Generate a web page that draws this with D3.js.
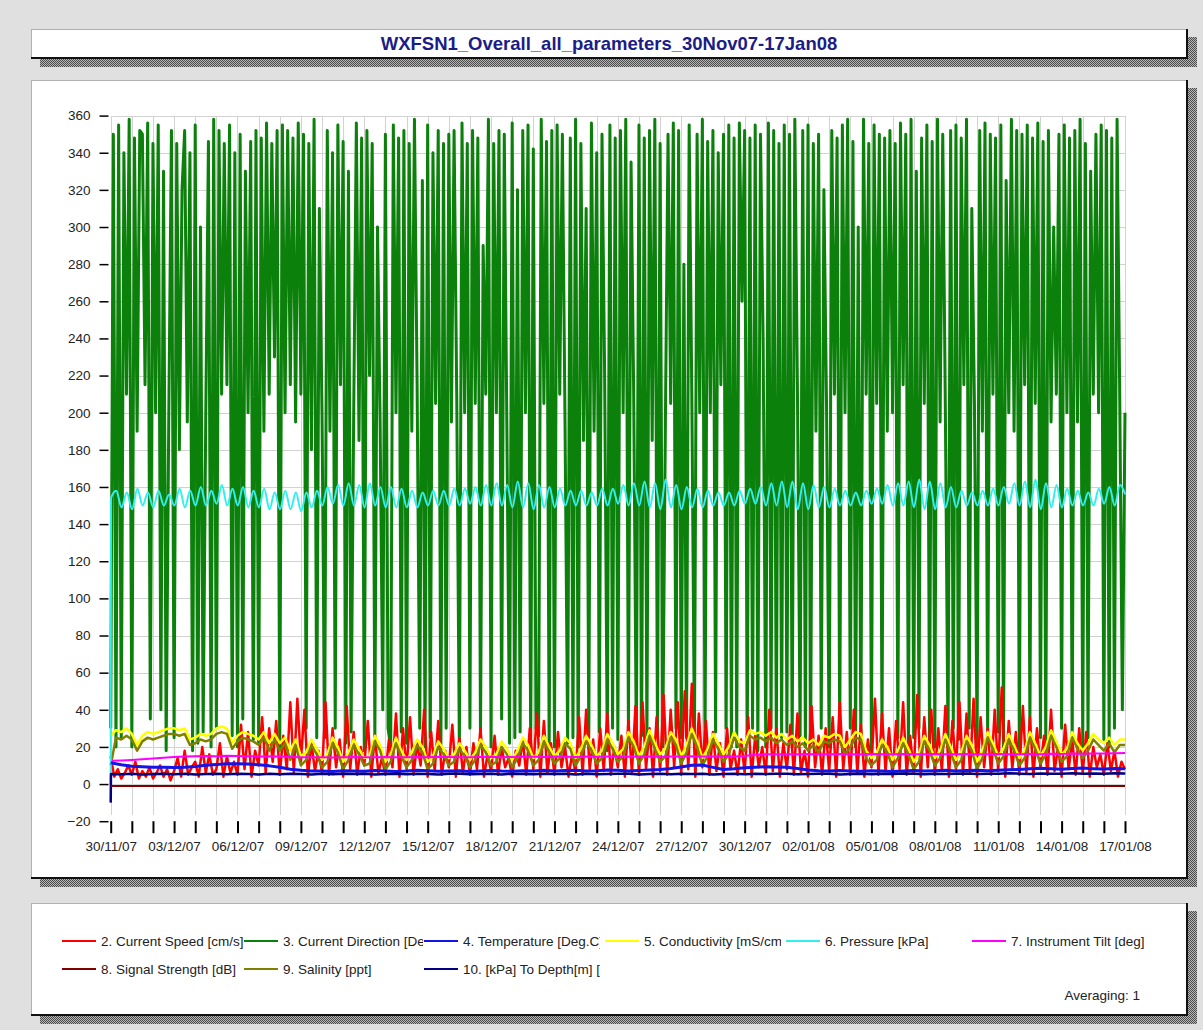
<!DOCTYPE html>
<html lang="en">
<head>
<meta charset="UTF-8">
<title>WXFSN1 overall parameters</title>
<script src="https://d3js.org/d3.v7.min.js"></script>
<style>
    body { margin: 0; background: #e0e0e0; }
    svg { display: block; font-family: "Liberation Sans", Arial, sans-serif; }
    .grid line { stroke: #d2d2d2; stroke-width: 1; shape-rendering: crispEdges; }
    .axis text { font-size: 13.5px; fill: #222; }
    .axis line { stroke: #000; }
    .legend text { font-size: 13.5px; fill: #222; }
</style>
</head>
<body>
<div id="chart"></div>
<script>
// ---- data ----
const startDate = new Date(2007, 10, 30);
const endDate = new Date(2008, 0, 17);

// 2. current speed, every 4 hours
const currentSpeed = [
    15, 4, 8, 3, 6, 10,
    5, 12, 3, 7, 4, 9,
    3, 6, 10, 4, 8, 2,
    7, 14, 4, 18, 5, 9,
    12, 4, 20, 6, 16, 5,
    8, 22, 4, 15, 6, 12,
    5, 32, 8, 28, 4, 18,
    10, 36, 6, 30, 12, 34,
    5, 26, 8, 44, 6, 46,
    12, 40, 4, 22, 7, 18,
    6, 44, 5, 30, 9, 24,
    4, 42, 8, 28, 5, 20,
    10, 34, 4, 26, 6, 14,
    5, 24, 9, 38, 4, 30,
    8, 36, 5, 22, 10, 40,
    4, 28, 7, 34, 5, 18,
    9, 32, 4, 25, 6, 20,
    5, 22, 8, 30, 4, 16,
    7, 26, 5, 20, 9, 14,
    4, 18, 10, 24, 5, 30,
    8, 38, 4, 34, 6, 22,
    5, 28, 9, 20, 4, 16,
    6, 36, 5, 40, 8, 24,
    4, 30, 7, 38, 5, 20,
    9, 26, 4, 34, 6, 42,
    5, 44, 8, 30, 4, 36,
    7, 48, 5, 40, 9, 44,
    5, 50, 8, 54, 4, 38,
    9, 34, 5, 28, 7, 22,
    4, 30, 8, 18, 5, 24,
    6, 36, 4, 26, 9, 20,
    5, 40, 7, 30, 4, 22,
    8, 32, 5, 38, 6, 18,
    4, 42, 9, 26, 5, 30,
    7, 36, 4, 44, 8, 28,
    5, 40, 6, 32, 4, 24,
    9, 46, 5, 38, 7, 30,
    4, 34, 8, 44, 5, 26,
    6, 48, 4, 36, 9, 40,
    5, 30, 7, 42, 4, 34,
    8, 44, 5, 38, 6, 46,
    4, 36, 9, 30, 5, 40,
    7, 52, 4, 34, 8, 28,
    5, 42, 6, 36, 4, 30,
    9, 26, 5, 40, 7, 20,
    4, 32, 8, 24, 5, 30,
    6, 28, 4, 20, 9, 16,
    5, 22, 7, 18, 4, 12,
    8
];

// 3. current direction, every 3 hours
const currentDirection = [
    30, 350, 20, 355, 25, 340, 210, 358,
    20, 348, 190, 352, 350, 215, 356, 35,
    345, 200, 355, 40, 330, 18, 200, 352,
    25, 345, 180, 320, 352, 195, 340, 18,
    355, 22, 300, 28, 200, 346, 20, 358,
    30, 352, 210, 345, 215, 355, 26, 340,
    20, 350, 35, 330, 200, 346, 24, 352,
    22, 348, 190, 356, 210, 345, 230, 352,
    20, 355, 200, 352, 215, 348, 195, 356,
    210, 350, 30, 345, 180, 358, 25, 310,
    200, 25, 352, 190, 340, 30, 355, 215,
    346, 22, 330, 28, 200, 356, 185, 348,
    18, 352, 220, 345, 25, 300, 195, 40,
    350, 30, 20, 355, 200, 348, 28, 352,
    22, 345, 190, 358, 215, 30, 325, 20,
    355, 25, 340, 205, 352, 18, 345, 30,
    350, 195, 352, 210, 20, 356, 200, 345,
    30, 352, 205, 348, 24, 290, 210, 358,
    20, 345, 200, 352, 35, 350, 190, 22,
    356, 25, 320, 28, 352, 200, 355, 20,
    342, 30, 26, 358, 205, 346, 18, 352,
    20, 355, 210, 350, 195, 22, 348, 25,
    358, 20, 345, 185, 310, 25, 356, 190,
    340, 28, 350, 220, 18, 355, 30, 348,
    24, 352, 200, 358, 30, 335, 210, 20,
    355, 26, 348, 22, 352, 185, 358, 26,
    345, 20, 195, 350, 205, 356, 30, 352,
    25, 280, 25, 355, 210, 22, 350, 200,
    358, 18, 346, 200, 352, 28, 340, 215,
    350, 30, 355, 20, 348, 20, 356, 260,
    352, 25, 348, 30, 355, 18, 350, 240,
    20, 356, 30, 352, 22, 345, 25, 355,
    28, 350, 20, 358, 210, 26, 352, 20,
    355, 22, 345, 190, 350, 30, 320, 205,
    20, 352, 210, 348, 25, 355, 200, 358,
    30, 346, 20, 300, 22, 358, 210, 345,
    18, 355, 205, 350, 28, 348, 190, 352,
    200, 345, 25, 356, 215, 350, 20, 358,
    25, 330, 30, 348, 205, 355, 22, 346,
    20, 358, 195, 350, 200, 20, 352, 30,
    355, 24, 348, 215, 358, 30, 310, 205,
    20, 352, 190, 356, 25, 350, 210, 348,
    28, 355, 20, 325, 200, 358, 190, 352,
    18, 350, 215, 355, 30, 348, 205, 356,
    25, 346, 20, 352, 195, 300, 210, 350,
    30, 355, 200, 348, 22, 352, 195, 358,
    20, 345, 25, 330, 210, 350, 200, 355,
    24, 352, 20, 348, 30, 358, 210, 40,
    200
];

// 4. temperature, every 12 hours
const temperature = [
    11.5, 10.4, 9.6, 9.3, 9.1, 9.0, 8.9, 9.1, 9.5, 10.1,
    10.6, 10.9, 11.0, 10.8, 10.4, 9.8, 9.0, 8.0, 7.4, 7.1,
    7.0, 6.8, 7.2, 7.0, 6.9, 7.3, 7.1, 6.8, 7.0, 7.4,
    7.2, 6.9, 7.0, 7.2, 6.8, 7.1, 7.3, 7.0, 6.9, 7.2,
    7.1, 7.4, 7.0, 7.3, 7.5, 7.1, 7.2, 7.6, 7.4, 7.0,
    7.3, 7.6, 7.8, 8.4, 9.2, 10.1, 10.3, 9.0, 7.8, 8.2,
    8.8, 9.1, 9.3, 9.2, 9.0, 8.4, 7.6, 7.2, 7.0, 7.3,
    7.1, 6.9, 7.2, 7.0, 6.8, 7.1, 7.3, 7.0, 7.2, 7.4,
    7.0, 7.3, 7.5, 7.2, 7.4, 7.7, 7.9, 8.3, 8.5, 8.2,
    8.0, 8.4, 8.6, 8.3, 8.1, 8.4, 8.2
];

// 5. conductivity, every 6 hours
const conductivity = [
    26, 29, 28, 30,  27, 21, 26, 28,  27, 28, 29, 30,  30, 29, 30, 24,
    25, 27, 26, 27,  30, 31, 30, 22,  26, 28, 27, 26,  24, 28, 22, 27,
    22, 25, 18, 24,  15, 17, 24, 19,  13, 16, 25, 20,  12, 17, 24, 19,
    14, 15, 26, 21,  12, 16, 25, 18,  13, 17, 24, 20,  12, 15, 23, 19,
    14, 16, 22, 18,  13, 17, 24, 20,  14, 16, 23, 19,  13, 18, 25, 21,
    14, 17, 26, 20,  15, 18, 25, 22,  14, 19, 26, 21,  15, 18, 27, 22,
    16, 19, 28, 23,  15, 20, 29, 22,  16, 19, 28, 24,  15, 21, 30, 23,
    14, 19, 27, 22,  16, 20, 28, 23,  22, 29, 27, 28,  26, 28, 25, 27,
    24, 26, 23, 25,  22, 24, 21, 26,  25, 27, 26, 20,  24, 28, 27, 18,
    14, 17, 24, 20,  13, 18, 25, 19,  12, 16, 26, 21,  14, 18, 27, 20,
    13, 17, 26, 21,  12, 18, 28, 22,  15, 19, 27, 21,  14, 18, 28, 22,
    15, 20, 29, 23,  16, 19, 28, 22,  18, 22, 27, 24,  22, 25, 21, 24,
    24
];

// 6. pressure: reading at deployment, then every 6 hours
const pressureDeploy = 0;
const pressure = [
    154, 158, 149, 157,  148, 159, 150, 157,  149, 158, 150, 156,  150, 159, 149, 158,
    150, 160, 150, 158,  151, 161, 150, 159,  150, 160, 149, 158,  149, 159, 148, 157,
    148, 158, 148, 157,  147, 157, 149, 158,  150, 160, 151, 161,  150, 162, 150, 161,
    149, 162, 150, 160,  149, 160, 149, 159,  149, 158, 149, 157,  150, 158, 150, 158,
    150, 159, 150, 159,  151, 160, 150, 161,  150, 162, 150, 161,  149, 163, 149, 162,
    148, 161, 149, 160,  149, 159, 150, 158,  150, 158, 150, 157,  150, 159, 150, 159,
    151, 161, 150, 162,  150, 163, 149, 162,  148, 164, 149, 161,  148, 160, 149, 159,
    149, 158, 150, 157,  150, 157, 150, 158,  151, 159, 151, 160,  150, 162, 150, 163,
    149, 163, 148, 162,  148, 161, 149, 160,  149, 159, 150, 158,  150, 157, 150, 158,
    151, 159, 151, 161,  150, 162, 150, 163,  149, 164, 148, 163,  148, 162, 149, 160,
    149, 158, 150, 157,  150, 158, 150, 159,  150, 160, 151, 162,  150, 163, 149, 164,
    148, 162, 149, 161,  149, 159, 150, 158,  150, 157, 150, 159,  151, 160, 150, 161,
    156
];

// 7. instrument tilt, every 12 hours
const instrumentTilt = [
    12.5, 12.7, 13.0, 13.4, 13.8, 14.2, 14.6, 14.9, 15.0, 15.1,
    15.0, 15.2, 15.1, 15.0, 14.9, 15.0, 14.8, 14.6, 14.5, 14.4,
    14.5, 14.3, 14.4, 14.6, 14.5, 14.4, 14.6, 14.5, 14.4, 14.6,
    14.5, 14.7, 14.6, 14.5, 14.4, 14.6, 14.7, 14.5, 14.6, 14.8,
    14.7, 14.6, 14.8, 14.7, 14.6, 14.8, 14.7, 14.9, 14.8, 14.7,
    14.9, 14.8, 14.7, 14.9, 14.8, 15.0, 14.9, 14.8, 15.0, 14.9,
    15.1, 15.8, 16.0, 16.1, 16.0, 16.1, 16.2, 16.0, 16.1, 16.2,
    16.0, 16.1, 16.2, 16.1, 16.0, 16.2, 16.1, 16.0, 16.2, 16.1,
    16.0, 16.2, 16.1, 16.0, 16.2, 16.1, 16.0, 16.2, 16.1, 16.3,
    16.2, 16.4, 16.3, 16.5, 16.4, 16.6, 16.7
];

// 8. signal strength, daily
const signalStrength = [
    -1.0, -1.1, -1.0, -1.0, -1.1, -1.0, -1.0, -1.1, -1.0, -1.0,
    -1.1, -1.0, -1.0, -1.0, -1.1, -1.0, -1.0, -1.1, -1.0, -1.0,
    -1.0, -1.1, -1.0, -1.0, -1.1, -1.0, -1.0, -1.0, -1.1, -1.0,
    -1.0, -1.1, -1.0, -1.0, -1.0, -1.1, -1.0, -1.0, -1.1, -1.0,
    -1.0, -1.0, -1.1, -1.0, -1.0, -1.1, -1.0, -1.0, -1.0
];

// 9. salinity, every 6 hours
const salinity = [
    10, 25, 24, 26,  24, 18, 23, 25,  24, 25, 26, 27,  27, 26, 27, 21,
    22, 24, 23, 24,  27, 28, 27, 19,  23, 25, 24, 23,  21, 25, 18, 24,
    18, 22, 13, 21,  10, 13, 21, 16,  9, 12, 22, 17,   8, 13, 21, 16,
    10, 11, 23, 18,  8, 12, 22, 15,   9, 13, 21, 17,   8, 11, 20, 16,
    10, 12, 19, 15,  9, 13, 21, 17,   10, 12, 20, 16,  9, 14, 22, 18,
    10, 13, 23, 17,  11, 14, 22, 19,  10, 15, 23, 18,  11, 14, 24, 19,
    12, 15, 25, 20,  11, 16, 26, 19,  12, 15, 25, 21,  11, 17, 27, 20,
    10, 15, 24, 19,  12, 16, 25, 20,  18, 26, 24, 25,  23, 25, 22, 24,
    21, 23, 20, 22,  18, 21, 17, 23,  22, 24, 23, 16,  20, 25, 24, 14,
    10, 13, 21, 17,  9, 14, 22, 16,   8, 12, 23, 18,   10, 14, 24, 17,
    9, 13, 23, 18,   8, 14, 25, 19,   11, 15, 24, 18,  10, 14, 25, 19,
    11, 16, 26, 20,  12, 15, 25, 19,  14, 18, 24, 21,  18, 22, 17, 21,
    21
];

// 10. kPa to depth: reading at deployment, then every 12 hours
const depthDeploy = -10;
const depth = [
    5.4, 5.3, 5.5, 5.2, 5.4, 5.6, 5.3, 5.5, 5.2, 5.4,
    5.6, 5.3, 5.5, 5.4, 5.2, 5.5, 5.3, 5.6, 5.4, 5.2,
    5.5, 5.3, 5.6, 5.4, 5.5, 5.2, 5.4, 5.6, 5.3, 5.5,
    5.4, 5.2, 5.5, 5.6, 5.3, 5.4, 5.5, 5.2, 5.6, 5.4,
    5.3, 5.5, 5.4, 5.6, 5.2, 5.5, 5.3, 5.4, 5.6, 5.5,
    5.2, 5.4, 5.5, 5.3, 5.6, 5.4, 5.5, 5.2, 5.4, 5.6,
    5.3, 5.5, 5.4, 5.6, 5.5, 5.3, 5.4, 5.6, 5.5, 5.2,
    5.4, 5.6, 5.3, 5.5, 5.4, 5.7, 5.5, 5.3, 5.6, 5.4,
    5.5, 5.7, 5.4, 5.6, 5.5, 5.8, 5.6, 5.4, 5.7, 5.5,
    5.6, 5.8, 5.5, 5.7, 5.6, 5.8, 5.7
];

const yTicks = [-20, 0, 20, 40, 60, 80, 100, 120, 140, 160, 180, 200, 220, 240, 260, 280, 300, 320, 340, 360];
const titleText = "WXFSN1_Overall_all_parameters_30Nov07-17Jan08";
const averagingText = "Averaging: 1";

// ---- series table ----
const series = [
    { label: "2. Current Speed [cm/s]", color: "#ff0000", width: 2.5, values: currentSpeed, step: 4 },
    { label: "3. Current Direction [Deg]", color: "#0b800b", width: 3, values: currentDirection, step: 3 },
    { label: "4. Temperature [Deg.C]", color: "#1414e6", width: 3, values: temperature, step: 12 },
    { label: "5. Conductivity [mS/cm]", color: "#ffff00", width: 2.5, values: conductivity, step: 6 },
    { label: "6. Pressure [kPa]", color: "#33eeee", width: 2, values: pressure, step: 6, deploy: pressureDeploy, curve: d3.curveMonotoneX },
    { label: "7. Instrument Tilt [deg]", color: "#ff00ff", width: 2, values: instrumentTilt, step: 12 },
    { label: "8. Signal Strength [dB]", color: "#800000", width: 2, values: signalStrength, step: 24 },
    { label: "9. Salinity [ppt]", color: "#808000", width: 2.5, values: salinity, step: 6 },
    { label: "10. [kPa] To Depth[m] [m]", color: "#000080", width: 2.5, values: depth, step: 12, deploy: depthDeploy }
];

// which series go on top of which
const drawOrder = [1, 0, 3, 7, 5, 4, 2, 8, 6];

function toPoints(s) {
    const pts = [];
    let offset = 0;
    if (s.deploy !== undefined) {
        pts.push({ t: startDate, v: s.deploy });
        offset = 0.3;
    }
    s.values.forEach((v, i) => {
        pts.push({ t: new Date(startDate.getTime() + (offset + i * s.step) * 3600000), v: v });
    });
    return pts;
}

// ---- drawing ----
const W = 1203, H = 1030;
const svg = d3.select("#chart").append("svg")
    .attr("width", W)
    .attr("height", H);

const defs = svg.append("defs");
const pat = defs.append("pattern")
    .attr("id", "dither")
    .attr("width", 2).attr("height", 2)
    .attr("patternUnits", "userSpaceOnUse");
pat.append("rect").attr("width", 2).attr("height", 2).attr("fill", "#b8b8b8");
pat.append("rect").attr("x", 0).attr("y", 0).attr("width", 1).attr("height", 1).attr("fill", "#4a4a4a");
pat.append("rect").attr("x", 1).attr("y", 1).attr("width", 1).attr("height", 1).attr("fill", "#4a4a4a");

svg.append("rect").attr("width", W).attr("height", H).attr("fill", "#e0e0e0");

function panel(x0, y0, w, h) {
    const g = svg.append("g").attr("shape-rendering", "crispEdges");
    g.append("rect").attr("x", x0 + 9).attr("y", y0 + h + 1).attr("width", w).attr("height", 8).attr("fill", "url(#dither)");
    g.append("rect").attr("x", x0 + w + 1).attr("y", y0 + 8).attr("width", 9).attr("height", h + 1).attr("fill", "url(#dither)");
    g.append("rect").attr("x", x0).attr("y", y0).attr("width", w).attr("height", h).attr("fill", "#fff");
    g.append("path").attr("d", `M${x0 + 0.5},${y0 + h}V${y0 + 0.5}H${x0 + w}`).attr("stroke", "#b0b0b0").attr("fill", "none");
    g.append("path").attr("d", `M${x0},${y0 + h}H${x0 + w}V${y0}`).attr("stroke", "#111").attr("stroke-width", 2).attr("fill", "none");
}

panel(31, 29, 1156, 29);
panel(31, 80, 1156, 798);
panel(31, 903, 1156, 112);

// title
svg.append("text")
    .attr("x", 609).attr("y", 49.5)
    .attr("text-anchor", "middle")
    .attr("font-size", 18.5)
    .attr("font-weight", "bold")
    .attr("fill", "#1c1c86")
    .text(titleText);

// scales
const x = d3.scaleTime().domain([startDate, endDate]).range([110.7, 1125]);
const y = d3.scaleLinear().domain([-20, 360]).range([821.2, 115.6]);
const days = d3.timeDay.range(startDate, d3.timeDay.offset(endDate, 1));

// grid
const grid = svg.append("g").attr("class", "grid");
grid.selectAll(".v").data(days).enter().append("line")
    .attr("x1", d => Math.round(x(d)) + 0.5).attr("x2", d => Math.round(x(d)) + 0.5)
    .attr("y1", y(360)).attr("y2", y(-20) - 6);
grid.selectAll(".h").data(yTicks.filter(v => v >= 0)).enter().append("line")
    .attr("x1", x(startDate)).attr("x2", x(endDate))
    .attr("y1", d => Math.round(y(d)) + 0.5).attr("y2", d => Math.round(y(d)) + 0.5);

// axes
const yAxis = svg.append("g").attr("class", "axis")
    .attr("transform", "translate(108.5,0)")
    .call(d3.axisLeft(y).tickValues(yTicks).tickSize(9).tickPadding(9));
yAxis.select(".domain").remove();
yAxis.selectAll("line").attr("stroke-width", 1.5);

const fmt = d3.timeFormat("%d/%m/%y");
const xAxis = svg.append("g").attr("class", "axis")
    .attr("transform", `translate(0,${y(-20)})`)
    .call(d3.axisBottom(x).tickValues(days).tickSize(12).tickPadding(8)
        .tickFormat((d, i) => i % 3 === 0 ? fmt(d) : ""));
xAxis.select(".domain").remove();
xAxis.selectAll("line").attr("stroke-width", 2);

// data lines
defs.append("clipPath").attr("id", "plotClip")
    .append("rect").attr("x", 108).attr("y", 100).attr("width", 1019).attr("height", 730);

const plot = svg.append("g").attr("clip-path", "url(#plotClip)");
drawOrder.forEach(i => {
    const s = series[i];
    const line = d3.line()
        .x(d => x(d.t))
        .y(d => y(d.v))
        .curve(s.curve || d3.curveLinear);
    plot.append("path")
        .datum(toPoints(s))
        .attr("fill", "none")
        .attr("stroke", s.color)
        .attr("stroke-width", s.width)
        .attr("stroke-linejoin", "round")
        .attr("d", line);
});

// legend
const legendSlots = [
    { x: 62, y: 941, end: 243 }, { x: 244, y: 941, end: 423 }, { x: 424, y: 941, end: 600 },
    { x: 605, y: 941, end: 781 }, { x: 786, y: 941, end: 970 }, { x: 972, y: 941, end: 1180 },
    { x: 62, y: 969, end: 243 }, { x: 244, y: 969, end: 423 }, { x: 424, y: 969, end: 600 }
];
const legend = svg.append("g").attr("class", "legend");
series.forEach((s, i) => {
    const slot = legendSlots[i];
    defs.append("clipPath").attr("id", "lg" + i)
        .append("rect").attr("x", slot.x).attr("y", slot.y - 12).attr("width", slot.end - slot.x).attr("height", 24);
    const g = legend.append("g").attr("clip-path", `url(#lg${i})`);
    g.append("line")
        .attr("x1", slot.x).attr("x2", slot.x + 34)
        .attr("y1", slot.y).attr("y2", slot.y)
        .attr("stroke", s.color).attr("stroke-width", 2);
    g.append("text")
        .attr("x", slot.x + 39).attr("y", slot.y + 5)
        .text(s.label);
});

svg.append("text")
    .attr("x", 1140).attr("y", 1000)
    .attr("text-anchor", "end")
    .attr("font-size", 13.5)
    .attr("fill", "#222")
    .text(averagingText);
</script>
</body>
</html>
